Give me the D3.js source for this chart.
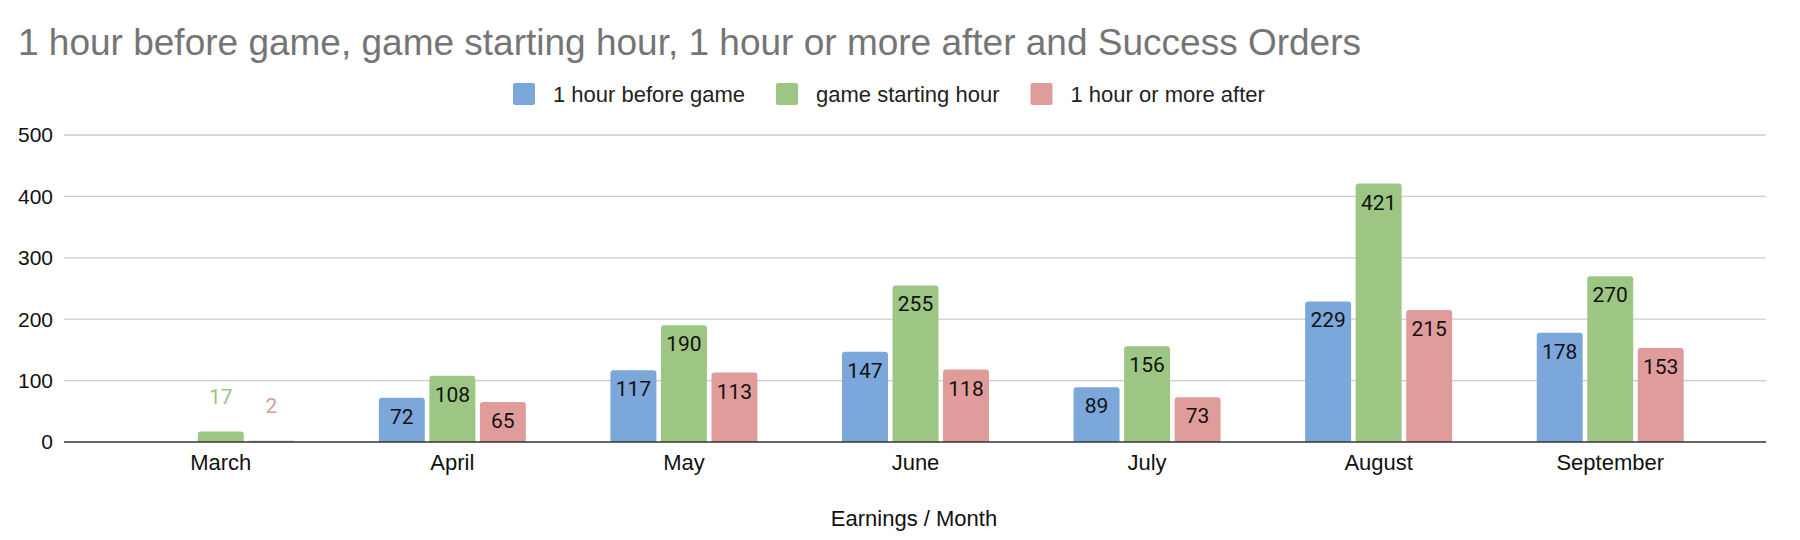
<!DOCTYPE html>
<html>
<head>
<meta charset="utf-8">
<script src="https://cdn.jsdelivr.net/npm/d3@7"></script>
<style>
  html, body { margin: 0; padding: 0; background: #fff; }
  svg { display: block; font-family: "Liberation Sans", Arial, sans-serif; }
</style>
</head>
<body>
<svg id="chart" width="1800" height="540"></svg>
<script>
// data
const months = ['March', 'April', 'May', 'June', 'July', 'August', 'September'];
const series = ['1 hour before game', 'game starting hour', '1 hour or more after'];
const beforeGame = [0, 72, 117, 147, 89, 229, 178];
const startingHour = [17, 108, 190, 255, 156, 421, 270];
const afterGame = [2, 65, 113, 118, 73, 215, 153];
const yTicks = [0, 100, 200, 300, 400, 500];
const colors = ['#7ba7da', '#9dc584', '#e09c9b'];

const values = [beforeGame, startingHour, afterGame];
const rows = months.map((m, i) => ({ month: m, vals: values.map(v => v[i]) }));

const svg = d3.select('#chart');
const plotLeft = 64, plotRight = 1766;

const x0 = d3.scaleBand().domain(months).range([105, 1726]);
const x1 = d3.scaleBand().domain(d3.range(series.length)).range([0, 147]).paddingInner(0.09);
const y = d3.scaleLinear().domain([0, 500]).range([442, 135]);

// title
svg.append('text')
  .attr('x', 18).attr('y', 55)
  .attr('fill', '#757575')
  .style('font-size', '37px')
  .text('1 hour before game, game starting hour, 1 hour or more after and Success Orders');

// legend
const legend = svg.append('g').attr('transform', 'translate(513,83)');
let lx = 0;
series.forEach((s, i) => {
  const item = legend.append('g').attr('transform', `translate(${lx},0)`);
  item.append('rect').attr('width', 22).attr('height', 22).attr('rx', 2).attr('fill', colors[i]);
  const t = item.append('text').attr('x', 40).attr('y', 19)
    .attr('fill', '#222').style('font-size', '22px').text(s);
  lx += 40 + t.node().getComputedTextLength() + 31;
});

// gridlines + y labels
const yAxis = svg.append('g');
yAxis.selectAll('line').data(yTicks.filter(d => d > 0)).enter().append('line')
  .attr('x1', plotLeft).attr('x2', plotRight)
  .attr('y1', d => y(d)).attr('y2', d => y(d))
  .attr('stroke', '#cccccc').attr('stroke-width', 1.3);
yAxis.selectAll('text').data(yTicks).enter().append('text')
  .attr('x', 53).attr('y', d => y(d)).attr('dy', '0.35em')
  .attr('text-anchor', 'end').attr('fill', '#111')
  .style('font-size', '21px').text(d => d);

// bars
function topRounded(x, yTop, w, h, r) {
  r = Math.min(r, h, w / 2);
  return `M${x},${yTop + h}V${yTop + r}Q${x},${yTop} ${x + r},${yTop}H${x + w - r}Q${x + w},${yTop} ${x + w},${yTop + r}V${yTop + h}Z`;
}

const groups = svg.append('g').selectAll('g').data(rows).enter().append('g')
  .attr('transform', d => `translate(${x0(d.month) + x0.bandwidth() / 2 - 73.5},0)`);

const cells = groups.selectAll('g').data(d => d.vals.map((v, i) => ({ v, i })).filter(c => c.v > 0))
  .enter().append('g');

cells.append('path')
  .attr('d', c => topRounded(x1(c.i), y(c.v), x1.bandwidth(), y(0) - y(c.v), 3))
  .attr('fill', c => colors[c.i]);

cells.append('text')
  .attr('x', c => x1(c.i) + x1.bandwidth() / 2)
  .attr('y', c => (y(0) - y(c.v)) > 34 ? y(c.v) + 26 : y(c.v) - 28)
  .attr('text-anchor', 'middle')
  .attr('fill', c => (y(0) - y(c.v)) > 34 ? '#111' : colors[c.i])
  .style('font-family', 'Roboto, sans-serif')
  .style('font-size', '21px')
  .text(c => c.v);

// baseline
svg.append('line')
  .attr('x1', plotLeft).attr('x2', plotRight)
  .attr('y1', y(0)).attr('y2', y(0))
  .attr('stroke', '#333').attr('stroke-width', 1.5);

// x labels
svg.append('g').selectAll('text').data(months).enter().append('text')
  .attr('x', d => x0(d) + x0.bandwidth() / 2).attr('y', 470)
  .attr('text-anchor', 'middle').attr('fill', '#111')
  .style('font-size', '22px').text(d => d);

// x axis title
svg.append('text')
  .attr('x', (plotLeft + plotRight) / 2 - 1).attr('y', 526)
  .attr('text-anchor', 'middle').attr('fill', '#111')
  .style('font-size', '22px').text('Earnings / Month');
</script>
</body>
</html>
